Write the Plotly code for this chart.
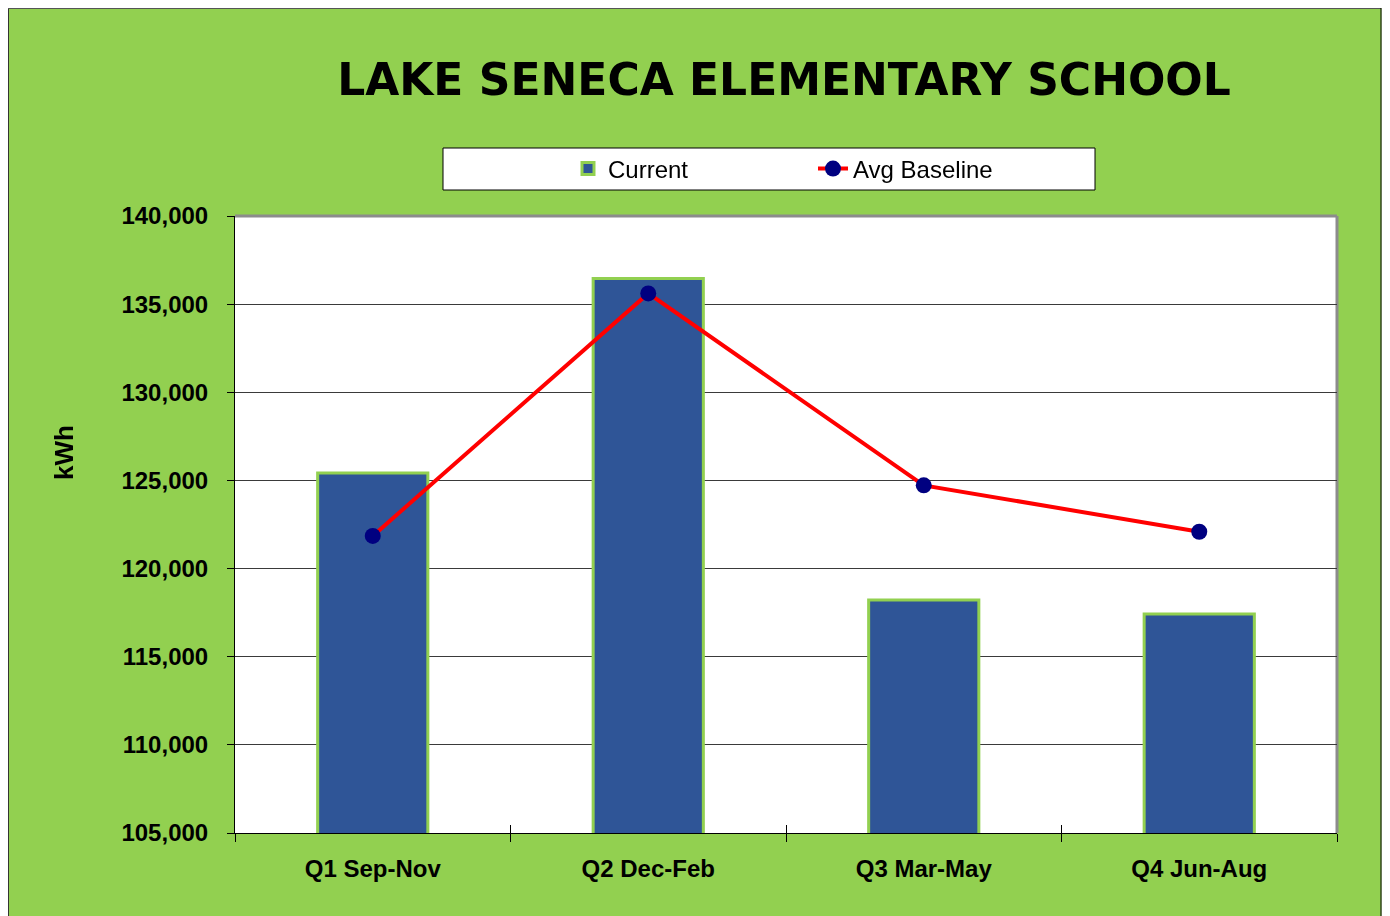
import plotly.graph_objects as go

categories = ["Q1 Sep-Nov", "Q2 Dec-Feb", "Q3 Mar-May", "Q4 Jun-Aug"]
current = [125420, 136460, 118220, 117420]
avg_baseline = [121850, 135610, 124720, 122090]
y_ticks = [105000, 110000, 115000, 120000, 125000, 130000, 135000, 140000]
y_tick_labels = ["105,000", "110,000", "115,000", "120,000", "125,000", "130,000", "135,000", "140,000"]

# page body has an 8px margin: figure spans viewport 8..1390 x 8..916
OFF = 8
W, H = 1390 - OFF, 916 - OFF
L, R, T, B = 235, 1337, 216, 833   # plot area in viewport pixels
pw, ph = R - L, B - T


def px(x):
    return (x - L) / pw


def py(y):
    return (B - y) / ph


GREEN = "#92D050"
FONT = "Liberation Sans, Arial, sans-serif"

fig = go.Figure()
fig.add_trace(go.Bar(
    x=categories, y=current, name="Current", width=0.4,
    marker=dict(color="#2F5597", line=dict(color=GREEN, width=3)),
))
fig.add_trace(go.Scatter(
    x=categories, y=avg_baseline, name="Avg Baseline", mode="lines+markers",
    line=dict(color="#FF0000", width=4),
    marker=dict(color="#000080", size=16),
))
# invisible helper trace so the overlay axis (inside half of crossing ticks) is drawn
fig.add_trace(go.Scatter(
    x=categories, y=current, xaxis="x2", mode="markers", opacity=0,
    showlegend=False, hoverinfo="skip",
))

shapes = [
    dict(type="rect", xref="paper", yref="paper", x0=px(1381.5), x1=px(1400), y0=py(930), y1=py(-5),
         fillcolor="white", line=dict(width=0), layer="below"),
    dict(type="line", xref="paper", yref="paper", x0=px(8.5), x1=px(8.5), y0=py(930), y1=py(0),
         line=dict(color="#333333", width=1), layer="below"),
    dict(type="line", xref="paper", yref="paper", x0=px(8), x1=px(1381), y0=py(8.5), y1=py(8.5),
         line=dict(color="#555555", width=1), layer="below"),
    dict(type="line", xref="paper", yref="paper", x0=px(1381), x1=px(1381), y0=py(930), y1=py(0),
         line=dict(color="black", width=1), layer="below"),
    # legend box
    dict(type="rect", xref="paper", yref="paper", x0=px(443), x1=px(1095), y0=py(190), y1=py(148),
         fillcolor="white", line=dict(color="black", width=1), layer="below"),
    # plot-area border top/right grey
    dict(type="line", xref="paper", yref="paper", x0=0, x1=1, y0=1, y1=1,
         line=dict(color="#8C8C8C", width=3), layer="below"),
    dict(type="line", xref="paper", yref="paper", x0=1, x1=1, y0=0, y1=1,
         line=dict(color="#8C8C8C", width=3), layer="below"),
]

fig.update_layout(
    width=W, height=H,
    margin=dict(l=L - OFF, r=1390 - R, t=T - OFF, b=916 - B, pad=0),
    paper_bgcolor=GREEN,
    plot_bgcolor="white",
    shapes=shapes,
    title=dict(
        text="LAKE SENECA ELEMENTARY SCHOOL",
        x=px(784), xanchor="center", xref="paper",
        y=1 - (80 - OFF) / H, yanchor="middle", yref="container",
        font=dict(family="DejaVu Sans, sans-serif", size=44, color="black", weight="bold"),
    ),
    showlegend=True,
    legend=dict(
        orientation="h", x=px(568), y=py(169), xanchor="left", yanchor="middle",
        bgcolor="rgba(0,0,0,0)", borderwidth=0,
        font=dict(family=FONT, size=24, color="black"),
        entrywidth=200, traceorder="normal",
    ),
    xaxis=dict(
        type="category", showgrid=False,
        showline=True, linecolor="black", linewidth=1,
        ticks="outside", ticklen=8, tickcolor="black", tickwidth=1, tickson="boundaries",
        tickfont=dict(family=FONT, size=24, color="black", weight="bold"),
        ticklabelstandoff=14,
    ),
    xaxis2=dict(
        type="category", overlaying="x", matches="x", side="bottom",
        showgrid=False, showline=False, showticklabels=False,
        ticks="inside", ticklen=8, tickcolor="black", tickwidth=1, tickson="boundaries",
    ),
    yaxis=dict(
        range=[105000, 140000],
        tickvals=y_ticks, ticktext=y_tick_labels,
        showgrid=True, gridcolor="#3A3A3A", gridwidth=1,
        showline=True, linecolor="black", linewidth=1,
        ticks="outside", ticklen=7, tickcolor="black",
        tickfont=dict(family=FONT, size=24, color="black", weight="bold"),
        ticklabelstandoff=14,
        zeroline=False,
    ),
    annotations=[dict(
        text="kWh", xref="paper", yref="paper", x=px(64), y=py(453),
        xanchor="center", yanchor="middle", textangle=-90, showarrow=False,
        font=dict(family=FONT, size=26, color="black", weight="bold"),
    )],
)

fig.write_html("out.html")
